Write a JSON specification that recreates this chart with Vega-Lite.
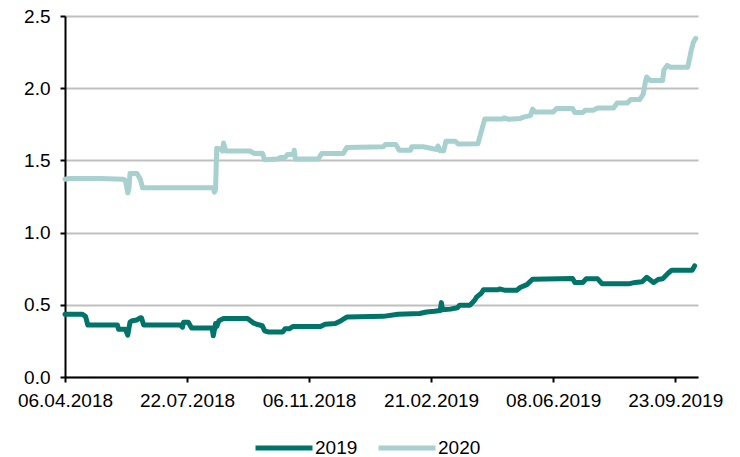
{
  "$schema": "https://vega.github.io/schema/vega-lite/v6.json",
  "autosize": {"type": "none"},
  "width": 633,
  "height": 361,
  "padding": {"left": 65, "top": 16, "right": 42, "bottom": 80},
  "background": "white",
  "config": {
    "view": {"stroke": null},
    "font": "Liberation Sans",
    "axis": {
      "labelFont": "Liberation Sans",
      "labelFontSize": 19,
      "labelColor": "#000000",
      "domainColor": "#000000",
      "domainWidth": 2,
      "tickColor": "#000000",
      "tickWidth": 2,
      "tickSize": 5,
      "title": null
    },
    "legend": {
      "labelFont": "Liberation Sans",
      "labelFontSize": 19,
      "labelColor": "#000000"
    }
  },
  "data": {
    "values": [
      {"date": "2018-04-06", "series": "2020", "value": 1.37},
      {"date": "2018-04-10", "series": "2020", "value": 1.375},
      {"date": "2018-05-07", "series": "2020", "value": 1.375},
      {"date": "2018-05-27", "series": "2020", "value": 1.37},
      {"date": "2018-05-29", "series": "2020", "value": 1.36},
      {"date": "2018-05-31", "series": "2020", "value": 1.275},
      {"date": "2018-06-01", "series": "2020", "value": 1.30},
      {"date": "2018-06-02", "series": "2020", "value": 1.41},
      {"date": "2018-06-08", "series": "2020", "value": 1.41},
      {"date": "2018-06-11", "series": "2020", "value": 1.37},
      {"date": "2018-06-13", "series": "2020", "value": 1.31},
      {"date": "2018-08-14", "series": "2020", "value": 1.31},
      {"date": "2018-08-15", "series": "2020", "value": 1.28},
      {"date": "2018-08-16", "series": "2020", "value": 1.30},
      {"date": "2018-08-17", "series": "2020", "value": 1.585},
      {"date": "2018-08-20", "series": "2020", "value": 1.58},
      {"date": "2018-08-22", "series": "2020", "value": 1.565},
      {"date": "2018-08-23", "series": "2020", "value": 1.62},
      {"date": "2018-08-25", "series": "2020", "value": 1.565},
      {"date": "2018-09-15", "series": "2020", "value": 1.565},
      {"date": "2018-09-19", "series": "2020", "value": 1.548},
      {"date": "2018-09-26", "series": "2020", "value": 1.55},
      {"date": "2018-09-28", "series": "2020", "value": 1.505},
      {"date": "2018-10-09", "series": "2020", "value": 1.51},
      {"date": "2018-10-12", "series": "2020", "value": 1.52},
      {"date": "2018-10-16", "series": "2020", "value": 1.52},
      {"date": "2018-10-18", "series": "2020", "value": 1.54},
      {"date": "2018-10-23", "series": "2020", "value": 1.54},
      {"date": "2018-10-24", "series": "2020", "value": 1.57},
      {"date": "2018-10-25", "series": "2020", "value": 1.51},
      {"date": "2018-11-14", "series": "2020", "value": 1.51},
      {"date": "2018-11-17", "series": "2020", "value": 1.548},
      {"date": "2018-12-06", "series": "2020", "value": 1.548},
      {"date": "2018-12-09", "series": "2020", "value": 1.59},
      {"date": "2019-01-10", "series": "2020", "value": 1.594},
      {"date": "2019-01-12", "series": "2020", "value": 1.61},
      {"date": "2019-01-21", "series": "2020", "value": 1.61},
      {"date": "2019-01-24", "series": "2020", "value": 1.571},
      {"date": "2019-02-03", "series": "2020", "value": 1.571},
      {"date": "2019-02-04", "series": "2020", "value": 1.594},
      {"date": "2019-02-14", "series": "2020", "value": 1.594},
      {"date": "2019-02-26", "series": "2020", "value": 1.576},
      {"date": "2019-02-27", "series": "2020", "value": 1.60},
      {"date": "2019-03-01", "series": "2020", "value": 1.566},
      {"date": "2019-03-04", "series": "2020", "value": 1.566},
      {"date": "2019-03-06", "series": "2020", "value": 1.633},
      {"date": "2019-03-14", "series": "2020", "value": 1.633},
      {"date": "2019-03-17", "series": "2020", "value": 1.613},
      {"date": "2019-04-03", "series": "2020", "value": 1.615},
      {"date": "2019-04-09", "series": "2020", "value": 1.786},
      {"date": "2019-04-24", "series": "2020", "value": 1.786},
      {"date": "2019-04-26", "series": "2020", "value": 1.795},
      {"date": "2019-04-30", "series": "2020", "value": 1.785},
      {"date": "2019-05-10", "series": "2020", "value": 1.79},
      {"date": "2019-05-13", "series": "2020", "value": 1.80},
      {"date": "2019-05-19", "series": "2020", "value": 1.81},
      {"date": "2019-05-21", "series": "2020", "value": 1.855},
      {"date": "2019-05-23", "series": "2020", "value": 1.835},
      {"date": "2019-06-08", "series": "2020", "value": 1.835},
      {"date": "2019-06-11", "series": "2020", "value": 1.86},
      {"date": "2019-06-25", "series": "2020", "value": 1.86},
      {"date": "2019-06-27", "series": "2020", "value": 1.832},
      {"date": "2019-07-04", "series": "2020", "value": 1.832},
      {"date": "2019-07-06", "series": "2020", "value": 1.848},
      {"date": "2019-07-13", "series": "2020", "value": 1.848},
      {"date": "2019-07-17", "series": "2020", "value": 1.863},
      {"date": "2019-07-31", "series": "2020", "value": 1.863},
      {"date": "2019-08-03", "series": "2020", "value": 1.897},
      {"date": "2019-08-12", "series": "2020", "value": 1.897},
      {"date": "2019-08-15", "series": "2020", "value": 1.922},
      {"date": "2019-08-23", "series": "2020", "value": 1.922},
      {"date": "2019-08-26", "series": "2020", "value": 1.96},
      {"date": "2019-08-28", "series": "2020", "value": 2.05},
      {"date": "2019-08-29", "series": "2020", "value": 2.078},
      {"date": "2019-09-01", "series": "2020", "value": 2.054},
      {"date": "2019-09-12", "series": "2020", "value": 2.054},
      {"date": "2019-09-13", "series": "2020", "value": 2.125},
      {"date": "2019-09-16", "series": "2020", "value": 2.158},
      {"date": "2019-09-19", "series": "2020", "value": 2.145},
      {"date": "2019-10-04", "series": "2020", "value": 2.145},
      {"date": "2019-10-07", "series": "2020", "value": 2.26},
      {"date": "2019-10-09", "series": "2020", "value": 2.32},
      {"date": "2019-10-11", "series": "2020", "value": 2.345},
      {"date": "2018-04-06", "series": "2019", "value": 0.435},
      {"date": "2018-04-21", "series": "2019", "value": 0.435},
      {"date": "2018-04-24", "series": "2019", "value": 0.42},
      {"date": "2018-04-26", "series": "2019", "value": 0.36},
      {"date": "2018-05-22", "series": "2019", "value": 0.36},
      {"date": "2018-05-23", "series": "2019", "value": 0.33},
      {"date": "2018-05-29", "series": "2019", "value": 0.33},
      {"date": "2018-05-31", "series": "2019", "value": 0.29},
      {"date": "2018-06-02", "series": "2019", "value": 0.38},
      {"date": "2018-06-04", "series": "2019", "value": 0.39},
      {"date": "2018-06-08", "series": "2019", "value": 0.395},
      {"date": "2018-06-11", "series": "2019", "value": 0.41},
      {"date": "2018-06-12", "series": "2019", "value": 0.41},
      {"date": "2018-06-14", "series": "2019", "value": 0.36},
      {"date": "2018-07-16", "series": "2019", "value": 0.36},
      {"date": "2018-07-18", "series": "2019", "value": 0.345},
      {"date": "2018-07-19", "series": "2019", "value": 0.38},
      {"date": "2018-07-23", "series": "2019", "value": 0.38},
      {"date": "2018-07-26", "series": "2019", "value": 0.34},
      {"date": "2018-08-13", "series": "2019", "value": 0.34},
      {"date": "2018-08-14", "series": "2019", "value": 0.285},
      {"date": "2018-08-16", "series": "2019", "value": 0.37},
      {"date": "2018-08-17", "series": "2019", "value": 0.35},
      {"date": "2018-08-19", "series": "2019", "value": 0.39},
      {"date": "2018-08-23", "series": "2019", "value": 0.405},
      {"date": "2018-09-13", "series": "2019", "value": 0.405},
      {"date": "2018-09-18", "series": "2019", "value": 0.375},
      {"date": "2018-09-21", "series": "2019", "value": 0.365},
      {"date": "2018-09-26", "series": "2019", "value": 0.355},
      {"date": "2018-09-28", "series": "2019", "value": 0.32},
      {"date": "2018-10-01", "series": "2019", "value": 0.312},
      {"date": "2018-10-14", "series": "2019", "value": 0.312},
      {"date": "2018-10-16", "series": "2019", "value": 0.335},
      {"date": "2018-10-20", "series": "2019", "value": 0.335},
      {"date": "2018-10-23", "series": "2019", "value": 0.35},
      {"date": "2018-11-16", "series": "2019", "value": 0.35},
      {"date": "2018-11-20", "series": "2019", "value": 0.365},
      {"date": "2018-11-29", "series": "2019", "value": 0.37},
      {"date": "2018-12-04", "series": "2019", "value": 0.39},
      {"date": "2018-12-09", "series": "2019", "value": 0.415},
      {"date": "2019-01-10", "series": "2019", "value": 0.42},
      {"date": "2019-01-23", "series": "2019", "value": 0.435},
      {"date": "2019-02-11", "series": "2019", "value": 0.44},
      {"date": "2019-02-17", "series": "2019", "value": 0.45},
      {"date": "2019-02-24", "series": "2019", "value": 0.455},
      {"date": "2019-03-01", "series": "2019", "value": 0.46},
      {"date": "2019-03-02", "series": "2019", "value": 0.515},
      {"date": "2019-03-03", "series": "2019", "value": 0.465},
      {"date": "2019-03-10", "series": "2019", "value": 0.47},
      {"date": "2019-03-16", "series": "2019", "value": 0.48},
      {"date": "2019-03-18", "series": "2019", "value": 0.497},
      {"date": "2019-03-27", "series": "2019", "value": 0.497},
      {"date": "2019-03-31", "series": "2019", "value": 0.53},
      {"date": "2019-04-02", "series": "2019", "value": 0.555},
      {"date": "2019-04-06", "series": "2019", "value": 0.58},
      {"date": "2019-04-08", "series": "2019", "value": 0.605},
      {"date": "2019-04-21", "series": "2019", "value": 0.605},
      {"date": "2019-04-22", "series": "2019", "value": 0.61},
      {"date": "2019-04-27", "series": "2019", "value": 0.60},
      {"date": "2019-05-07", "series": "2019", "value": 0.60},
      {"date": "2019-05-10", "series": "2019", "value": 0.62},
      {"date": "2019-05-16", "series": "2019", "value": 0.64},
      {"date": "2019-05-20", "series": "2019", "value": 0.67},
      {"date": "2019-05-21", "series": "2019", "value": 0.677},
      {"date": "2019-06-25", "series": "2019", "value": 0.682},
      {"date": "2019-06-27", "series": "2019", "value": 0.655},
      {"date": "2019-07-04", "series": "2019", "value": 0.655},
      {"date": "2019-07-07", "series": "2019", "value": 0.68},
      {"date": "2019-07-17", "series": "2019", "value": 0.68},
      {"date": "2019-07-21", "series": "2019", "value": 0.645},
      {"date": "2019-08-13", "series": "2019", "value": 0.645},
      {"date": "2019-08-19", "series": "2019", "value": 0.655},
      {"date": "2019-08-25", "series": "2019", "value": 0.66},
      {"date": "2019-08-29", "series": "2019", "value": 0.69},
      {"date": "2019-09-04", "series": "2019", "value": 0.654},
      {"date": "2019-09-08", "series": "2019", "value": 0.675},
      {"date": "2019-09-12", "series": "2019", "value": 0.68},
      {"date": "2019-09-17", "series": "2019", "value": 0.72},
      {"date": "2019-09-20", "series": "2019", "value": 0.74},
      {"date": "2019-10-08", "series": "2019", "value": 0.74},
      {"date": "2019-10-10", "series": "2019", "value": 0.77}
    ]
  },
  "mark": {"type": "line", "strokeWidth": 5, "strokeJoin": "round", "strokeCap": "round"},
  "encoding": {
    "x": {
      "field": "date",
      "type": "temporal",
      "scale": {
        "type": "utc",
        "domain": [
          {"year": 2018, "month": 4, "date": 6, "utc": true},
          {"year": 2019, "month": 10, "date": 13, "utc": true}
        ]
      },
      "axis": {
        "values": [
          {"year": 2018, "month": 4, "date": 6, "utc": true},
          {"year": 2018, "month": 7, "date": 22, "utc": true},
          {"year": 2018, "month": 11, "date": 6, "utc": true},
          {"year": 2019, "month": 2, "date": 21, "utc": true},
          {"year": 2019, "month": 6, "date": 8, "utc": true},
          {"year": 2019, "month": 9, "date": 23, "utc": true}
        ],
        "format": "%d.%m.%Y",
        "grid": false,
        "labelPadding": 9,
        "labelFlush": false,
        "labelOverlap": false
      }
    },
    "y": {
      "field": "value",
      "type": "quantitative",
      "scale": {"domain": [0, 2.5], "nice": false, "zero": true},
      "axis": {
        "values": [0, 0.5, 1, 1.5, 2, 2.5],
        "format": ".1f",
        "grid": true,
        "gridColor": "#bfbfbf",
        "gridWidth": 2,
        "labelPadding": 10,
        "labelFlush": false
      }
    },
    "color": {
      "field": "series",
      "type": "nominal",
      "scale": {"domain": ["2019", "2020"], "range": ["#007468", "#a7d0cf"]},
      "legend": {
        "title": null,
        "orient": "none",
        "direction": "horizontal",
        "legendX": 188,
        "legendY": 401,
        "symbolType": "stroke",
        "symbolSize": 3249,
        "symbolStrokeWidth": 5,
        "labelOffset": 0,
        "columnPadding": 10
      }
    }
  }
}
